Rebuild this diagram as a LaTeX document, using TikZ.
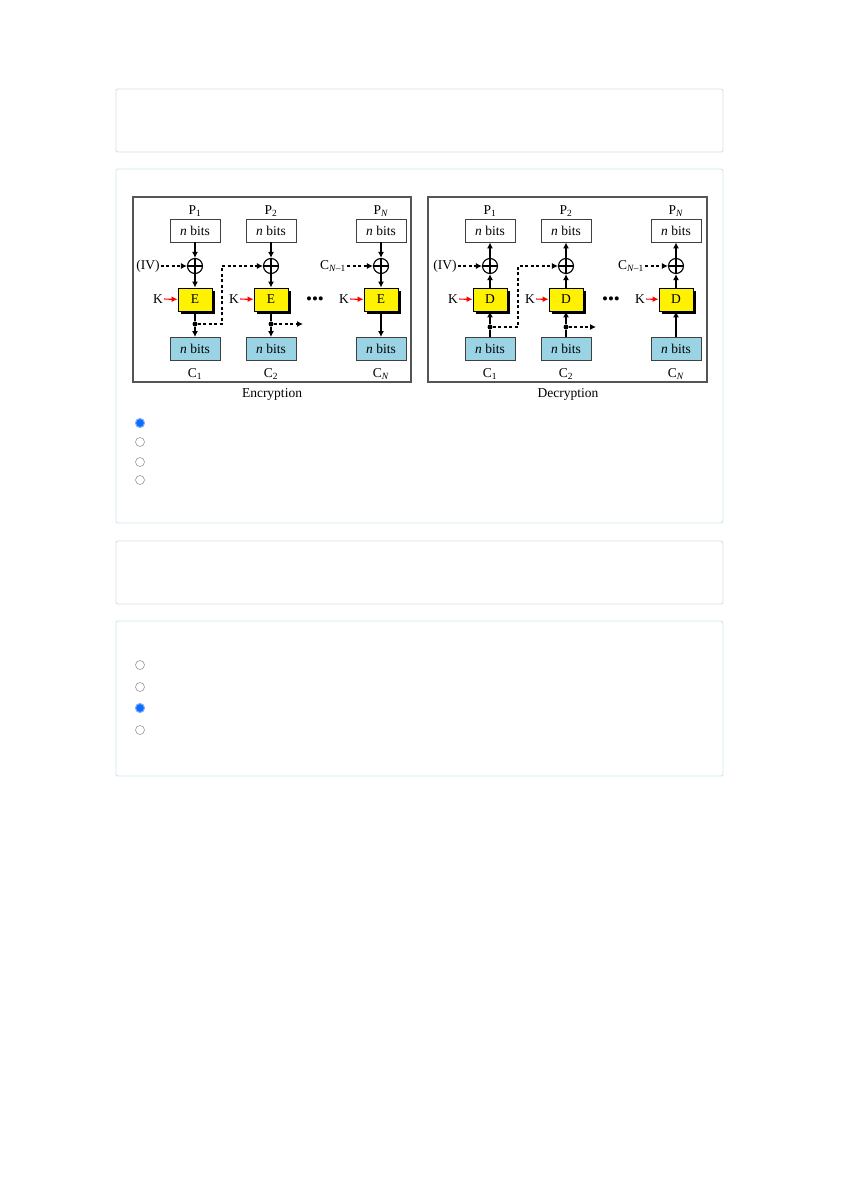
\documentclass[tikz,border=0pt]{standalone}
\usepackage{fontspec}
\setmainfont{Liberation Serif}
\usetikzlibrary{positioning,arrows.meta,shadows}

\definecolor{cardgray}{HTML}{DCDFE3}
\definecolor{cardblue}{HTML}{CDE6EF}
\definecolor{cipherblue}{HTML}{9AD4E4}
\definecolor{radioblue}{HTML}{0D6EFD}
\definecolor{framegray}{HTML}{555555}

\begin{document}
\begin{tikzpicture}[x=1pt, y=-1pt, font=\fontsize{13.5}{16}\selectfont,
  card/.style={rounded corners=2pt, line width=0.9pt},
  radio/.style={circle, draw=gray!80, fill=white, line width=0.6pt, minimum size=9pt, inner sep=0pt},
  radioon/.style={circle, draw=radioblue!55, fill=radioblue, line width=1pt, minimum size=9pt, inner sep=0pt},
  frame/.style={draw=framegray, line width=1.1pt},
  bitbox/.style={draw=black!75, rectangle, minimum width=50pt, minimum height=23pt, inner sep=0pt, line width=0.9pt},
  cbox/.style={bitbox, fill=cipherblue},
  cipher/.style={draw=black, rectangle, fill=yellow, minimum width=34pt, minimum height=23pt, inner sep=0pt, line width=0.9pt,
    drop shadow={shadow xshift=3pt, shadow yshift=-3pt, fill=black, opacity=1}},
  xor/.style={draw, circle, minimum size=15pt, inner sep=0pt, line width=1.1pt,
    path picture={\draw[line width=1.1pt] (path picture bounding box.north) -- (path picture bounding box.south)
      (path picture bounding box.west) -- (path picture bounding box.east);}},
  dot/.style={circle, fill=black, inner sep=0pt, minimum size=5pt},
  lbl/.style={anchor=base, inner sep=0pt},
  more/.style={font=\fontsize{17}{18}\selectfont, inner sep=0pt},
  arr/.style={-{Latex[length=6pt, width=6pt]}, line width=1.5pt},
  dasharr/.style={-{Latex[length=6pt, width=6pt]}, line width=1.1pt, dash pattern=on 3pt off 2.5pt},
  karr/.style={-{Latex[length=6pt, width=6pt]}, red, line width=1.2pt}]

\useasboundingbox[fill=white] (0,0) rectangle (841,1191);

% cards
\draw[card, draw=cardgray] (116,89) rectangle (723,152);
\draw[card, draw=cardblue] (116,169) rectangle (723,523);
\draw[card, draw=cardgray] (116,541) rectangle (723,604);
\draw[card, draw=cardblue] (116,621) rectangle (723,776);

% encryption
\draw[frame] (133,197) rectangle (411,382);
\node[lbl] (encTitle) at (272,397) {Encryption};

\node[lbl] (eP1) at (195,214) {P\textsubscript{1}};
\node[lbl] (eP2) at (271,214) {P\textsubscript{2}};
\node[lbl] (ePN) at (381,214) {P\textsubscript{\textit{N}}};
\node[bitbox] (eIn1) at (195,230.5) {\textit{n} bits};
\node[bitbox] (eIn2) at (271,230.5) {\textit{n} bits};
\node[bitbox] (eInN) at (381,230.5) {\textit{n} bits};
\node[xor] (eX1) at (195,266) {};
\node[xor] (eX2) at (271,266) {};
\node[xor] (eXN) at (381,266) {};
\node[cipher] (eE1) at (195,299.5) {E};
\node[cipher] (eE2) at (271,299.5) {E};
\node[cipher] (eEN) at (381,299.5) {E};
\node[dot] (eDot1) at (195,324) {};
\node[dot] (eDot2) at (271,324) {};
\node[cbox] (eOut1) at (195,349) {\textit{n} bits};
\node[cbox] (eOut2) at (271,349) {\textit{n} bits};
\node[cbox] (eOutN) at (381,349) {\textit{n} bits};
\node[lbl] (eC1) at (195,377) {C\textsubscript{1}};
\node[lbl] (eC2) at (271,377) {C\textsubscript{2}};
\node[lbl] (eCN) at (381,377) {C\textsubscript{\textit{N}}};
\node[inner sep=1pt] (eK1) at (158,299) {K};
\node[inner sep=1pt] (eK2) at (234,299) {K};
\node[inner sep=1pt] (eKN) at (344,299) {K};
\node[inner sep=1pt] (eIV) at (148,266) {(IV)};
\node[inner sep=1pt] (eCprev) at (333,266) {C\textsubscript{\textit{N}--1}};
\node[more] (eMore) at (315,301) {•••};
\coordinate (eBend1) at (222,324);
\coordinate (eNext) at (303,324);

\draw[arr] (eIn1) -- (eX1);
\draw[arr] (eX1) -- (eE1);
\draw[line width=1.5pt] (eE1) -- (eDot1);
\draw[arr] (eDot1) -- (eOut1);
\draw[arr] (eIn2) -- (eX2);
\draw[arr] (eX2) -- (eE2);
\draw[line width=1.5pt] (eE2) -- (eDot2);
\draw[arr] (eDot2) -- (eOut2);
\draw[arr] (eInN) -- (eXN);
\draw[arr] (eXN) -- (eEN);
\draw[arr] (eEN) -- (eOutN);
\draw[karr] (eK1) -- (eE1);
\draw[karr] (eK2) -- (eE2);
\draw[karr] (eKN) -- (eEN);
\draw[dasharr] (eIV) -- (eX1);
\draw[dasharr] (eDot1) -- (eBend1) |- (eX2);
\draw[dasharr] (eDot2) -- (eNext);
\draw[dasharr] (eCprev) -- (eXN);

% decryption
\draw[frame] (428,197) rectangle (707,382);
\node[lbl] (decTitle) at (568,397) {Decryption};

\node[lbl] (dP1) at (490,214) {P\textsubscript{1}};
\node[lbl] (dP2) at (566,214) {P\textsubscript{2}};
\node[lbl] (dPN) at (676,214) {P\textsubscript{\textit{N}}};
\node[bitbox] (dOut1) at (490,230.5) {\textit{n} bits};
\node[bitbox] (dOut2) at (566,230.5) {\textit{n} bits};
\node[bitbox] (dOutN) at (676,230.5) {\textit{n} bits};
\node[xor] (dX1) at (490,266) {};
\node[xor] (dX2) at (566,266) {};
\node[xor] (dXN) at (676,266) {};
\node[cipher] (dD1) at (490,299.5) {D};
\node[cipher] (dD2) at (566,299.5) {D};
\node[cipher] (dDN) at (676,299.5) {D};
\node[dot] (dDot1) at (490,327) {};
\node[dot] (dDot2) at (566,327) {};
\node[cbox] (dIn1) at (490,349) {\textit{n} bits};
\node[cbox] (dIn2) at (566,349) {\textit{n} bits};
\node[cbox] (dInN) at (676,349) {\textit{n} bits};
\node[lbl] (dC1) at (490,377) {C\textsubscript{1}};
\node[lbl] (dC2) at (566,377) {C\textsubscript{2}};
\node[lbl] (dCN) at (676,377) {C\textsubscript{\textit{N}}};
\node[inner sep=1pt] (dK1) at (453,299) {K};
\node[inner sep=1pt] (dK2) at (530,299) {K};
\node[inner sep=1pt] (dKN) at (640,299) {K};
\node[inner sep=1pt] (dIV) at (445,266) {(IV)};
\node[inner sep=1pt] (dCprev) at (631,266) {C\textsubscript{\textit{N}--1}};
\node[more] (dMore) at (611,301) {•••};
\coordinate (dBend1) at (518,327);
\coordinate (dNext) at (596,327);

\draw[line width=1.5pt] (dIn1) -- (dDot1);
\draw[arr] (dDot1) -- (dD1);
\draw[arr] (dD1) -- (dX1);
\draw[arr] (dX1) -- (dOut1);
\draw[line width=1.5pt] (dIn2) -- (dDot2);
\draw[arr] (dDot2) -- (dD2);
\draw[arr] (dD2) -- (dX2);
\draw[arr] (dX2) -- (dOut2);
\draw[arr] (dInN) -- (dDN);
\draw[arr] (dDN) -- (dXN);
\draw[arr] (dXN) -- (dOutN);
\draw[karr] (dK1) -- (dD1);
\draw[karr] (dK2) -- (dD2);
\draw[karr] (dKN) -- (dDN);
\draw[dasharr] (dIV) -- (dX1);
\draw[dasharr] (dDot1) -- (dBend1) |- (dX2);
\draw[dasharr] (dDot2) -- (dNext);
\draw[dasharr] (dCprev) -- (dXN);

% answer choices
\node[radioon] (q1a) at (140,423) {};
\node[radio] (q1b) at (140,442) {};
\node[radio] (q1c) at (140,462) {};
\node[radio] (q1d) at (140,480) {};
\node[radio] (q2a) at (140,665) {};
\node[radio] (q2b) at (140,687) {};
\node[radioon] (q2c) at (140,708) {};
\node[radio] (q2d) at (140,730) {};
\end{tikzpicture}
\end{document}
